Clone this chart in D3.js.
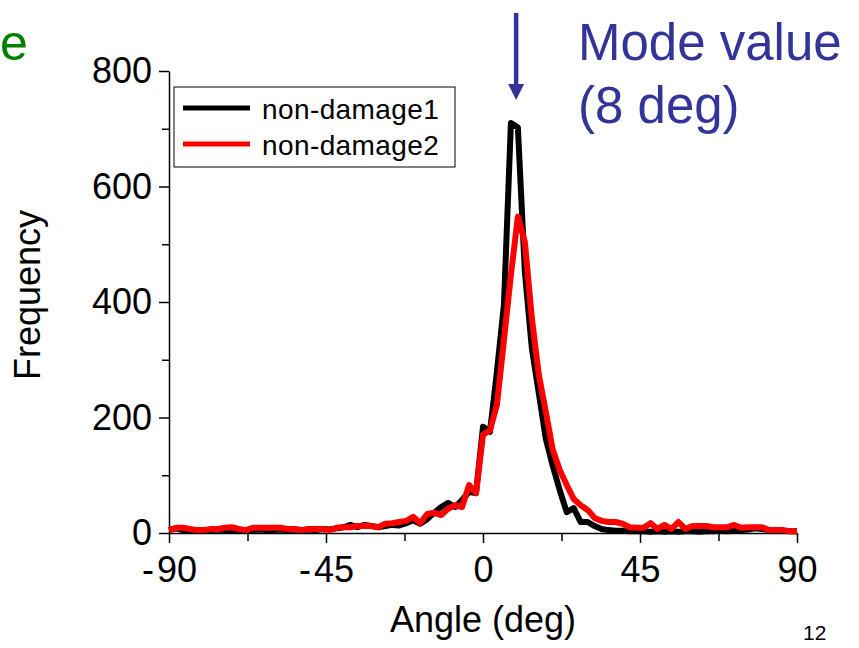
<!DOCTYPE html>
<html>
<head>
<meta charset="utf-8">
<script src="https://cdn.jsdelivr.net/npm/d3@7"></script>
<style>
  body { margin: 0; background: #fff; }
  svg { display: block; font-family: "Liberation Sans", Arial, sans-serif; }
</style>
</head>
<body>
<div id="chart"></div>
<script>
// angle bins (deg)
const angles = [
  -90, -88, -86, -84, -82, -80, -78, -76, -74, -72,
  -70, -68, -66, -64, -62, -60, -58, -56, -54, -52,
  -50, -48, -46, -44, -42, -40, -38, -36, -34, -32,
  -30, -28, -26, -24, -22, -20, -18, -16, -14, -12,
  -10, -8, -6, -4, -2, 0, 2, 4, 6, 8,
  10, 12, 14, 16, 18, 20, 22, 24, 26, 28,
  30, 32, 34, 36, 38, 40, 42, 44, 46, 48,
  50, 52, 54, 56, 58, 60, 62, 64, 66, 68,
  70, 72, 74, 76, 78, 80, 82, 84, 86, 88,
  90
];

const nonDamage1 = [
  5, 8, 5, 4, 5, 4, 5, 6, 5, 4,
  5, 4, 5, 6, 5, 5, 6, 5, 6, 5,
  6, 5, 7, 6, 8, 10, 14, 10, 14, 12,
  10, 12, 14, 13, 17, 22, 16, 24, 35, 45,
  52, 45, 57, 71, 69, 184, 175, 280, 395, 710,
  702, 452, 320, 242, 163, 116, 74, 36, 43, 19,
  19, 12, 7, 5, 4, 4, 3, 3, 3, 2,
  3, 2, 3, 2, 3, 3, 2, 3, 3, 4,
  3, 4, 5, 6, 8, 7, 5, 4, 4, 3,
  3
];

const nonDamage2 = [
  5, 9, 9, 7, 5, 5, 7, 7, 9, 10,
  7, 5, 9, 9, 9, 9, 9, 7, 7, 5,
  7, 7, 7, 5, 9, 10, 10, 12, 12, 12,
  10, 16, 17, 19, 21, 28, 17, 33, 35, 31,
  42, 48, 45, 83, 69, 170, 178, 222, 334, 447,
  548, 504, 372, 274, 210, 144, 109, 83, 59, 48,
  40, 26, 21, 19, 19, 16, 10, 9, 9, 17,
  7, 14, 7, 19, 7, 12, 12, 12, 10, 10,
  10, 14, 9, 10, 10, 10, 5, 5, 5, 3,
  3
];

const seriesNames = ["non-damage1", "non-damage2"];
const seriesColors = ["#000000", "#ff0000"];

const xTicks = [-90, -45, 0, 45, 90];
const xMinorTicks = [-67.5, -22.5, 22.5, 67.5];
const yTicks = [0, 200, 400, 600, 800];
const yMinorTicks = [100, 300, 500, 700];

const modeAngle = 9.5; // where the arrow sits
const modeLines = ["Mode value", "(8 deg)"];

const width = 859, height = 648;
const margin = { left: 169, right: 62, top: 71, bottom: 115 };

const svg = d3.select("#chart").append("svg")
  .attr("width", width)
  .attr("height", height);

const x = d3.scaleLinear().domain([-90, 90]).range([margin.left, width - margin.right]);
const y = d3.scaleLinear().domain([0, 800]).range([height - margin.bottom, margin.top]);

const fmt = d => (d < 0 ? "-\u200A" + Math.abs(d) : String(d));

// axes
const xAxisG = svg.append("g").attr("transform", `translate(0,${y(0)})`);
xAxisG.call(d3.axisBottom(x).tickValues(xTicks).tickFormat(fmt)
  .tickSizeInner(10).tickSizeOuter(0).tickPadding(13));
xAxisG.append("g").call(d3.axisBottom(x).tickValues(xMinorTicks).tickFormat("")
  .tickSizeInner(8).tickSizeOuter(0))
  .select(".domain").remove();

const yAxisG = svg.append("g").attr("transform", `translate(${x(-90)},0)`);
yAxisG.call(d3.axisLeft(y).tickValues(yTicks)
  .tickSizeInner(10).tickSizeOuter(0).tickPadding(7));
yAxisG.append("g").call(d3.axisLeft(y).tickValues(yMinorTicks).tickFormat("")
  .tickSizeInner(7).tickSizeOuter(0))
  .select(".domain").remove();

svg.selectAll(".domain, .tick line").attr("stroke", "#000").attr("stroke-width", 1.5);
svg.selectAll(".tick text")
  .attr("fill", "#000")
  .style("font-size", "36px")
  .style("font-family", "'Liberation Sans', Arial, sans-serif");

// lines
const line = d3.line()
  .x((d, i) => x(angles[i]))
  .y(d => y(d));

[nonDamage1, nonDamage2].forEach((vals, k) => {
  svg.append("path")
    .datum(vals)
    .attr("fill", "none")
    .attr("stroke", seriesColors[k])
    .attr("stroke-width", 6)
    .attr("stroke-linejoin", "round")
    .attr("d", line);
});

// legend
const legend = svg.append("g").attr("transform", "translate(174,87)");
legend.append("rect")
  .attr("width", 281).attr("height", 80)
  .attr("fill", "#fff").attr("stroke", "#000").attr("stroke-width", 1);
seriesNames.forEach((name, k) => {
  const ly = 21 + k * 36;
  legend.append("line")
    .attr("x1", 9).attr("x2", 76).attr("y1", ly).attr("y2", ly)
    .attr("stroke", seriesColors[k]).attr("stroke-width", 5);
  legend.append("text")
    .attr("x", 88).attr("y", ly + 11)
    .style("font-size", "28px")
    .style("letter-spacing", "0.4px")
    .text(name);
});

// axis titles
svg.append("text")
  .attr("x", x(0)).attr("y", 632)
  .attr("text-anchor", "middle")
  .style("font-size", "36px")
  .text("Angle (deg)");

svg.append("text")
  .attr("transform", "translate(40,295) rotate(-90)")
  .attr("text-anchor", "middle")
  .style("font-size", "36px")
  .text("Frequency");

// mode annotation
const navy = "#333399";
const ax = x(modeAngle);
svg.append("line")
  .attr("x1", ax).attr("x2", ax).attr("y1", 13).attr("y2", 86)
  .attr("stroke", navy).attr("stroke-width", 4.5);
svg.append("path")
  .attr("d", `M${ax - 8},84 L${ax + 8},84 L${ax},100 Z`)
  .attr("fill", navy);

svg.append("text")
  .attr("x", 578)
  .attr("fill", navy)
  .style("font-size", "51px")
  .selectAll("tspan")
  .data(modeLines)
  .join("tspan")
  .attr("x", 578)
  .attr("y", (d, i) => 60 + i * 63)
  .text(d => d);

// leftover pieces of the slide
svg.append("text")
  .attr("x", 0).attr("y", 60)
  .attr("fill", "#008000")
  .style("font-size", "50px")
  .text("e");

svg.append("text")
  .attr("x", 803).attr("y", 640)
  .style("font-size", "21px")
  .text("12");
</script>
</body>
</html>
